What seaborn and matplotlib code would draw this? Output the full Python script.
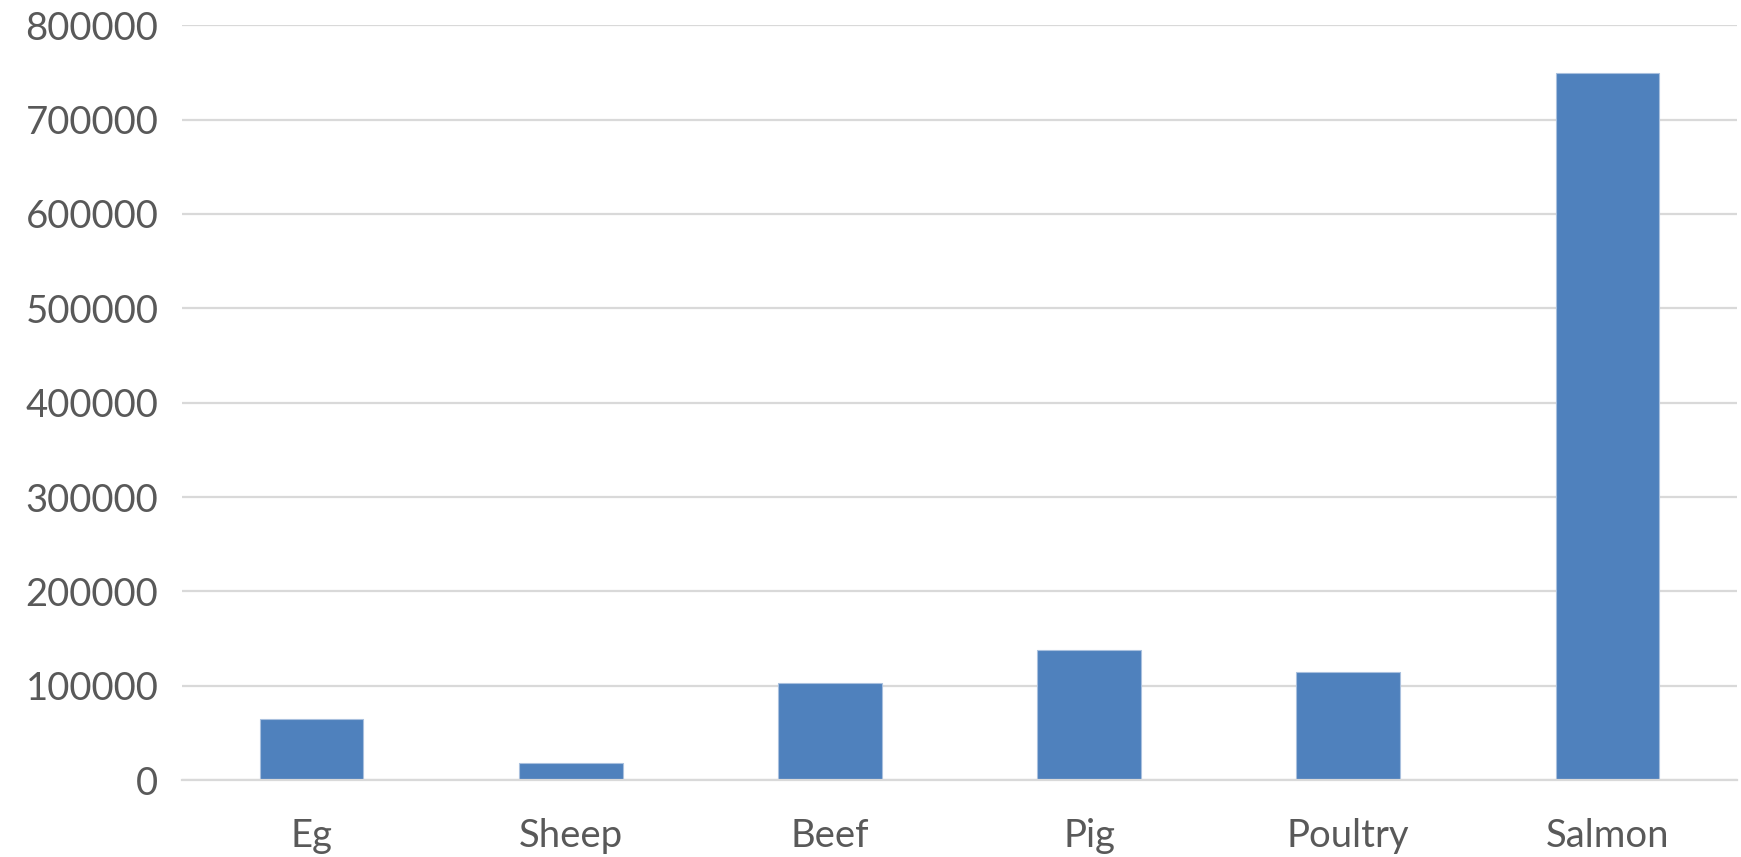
import numpy as np
import pandas as pd
import matplotlib.pyplot as plt
import seaborn as sns

categories = ["Eg", "Sheep", "Beef", "Pig", "Poultry", "Salmon"]
values = [64700, 18400, 102500, 137800, 114800, 749500]
yticks = [0, 100000, 200000, 300000, 400000, 500000, 600000, 700000, 800000]

df = pd.DataFrame({"category": categories, "value": values})

sns.set_style("white")
plt.rcParams["font.family"] = ["Lato", "DejaVu Sans"]

fig = plt.figure(figsize=(17.41, 8.57), dpi=100)
ax = fig.add_axes([0.1045, 0.0898, 0.8932, 0.8807])

sns.barplot(data=df, x="category", y="value", color="#4f81bd",
            saturation=1, width=0.4, edgecolor="#a9c0de", linewidth=0.8, ax=ax)

ax.set_ylim(0, 800000)
ax.set_xlim(-0.5, 5.5)
ax.set_yticks(yticks)
ax.set_yticklabels([str(t) for t in yticks])
ax.yaxis.grid(True, color="#d9d9d9", linewidth=1.6)
ax.set_axisbelow(True)
for s in ["top", "right", "left"]:
    ax.spines[s].set_visible(False)
ax.spines["bottom"].set_color("#d9d9d9")
ax.spines["bottom"].set_linewidth(1.6)
ax.tick_params(axis="y", length=0, pad=17, labelsize=27.5, labelcolor="#595959")
ax.tick_params(axis="x", length=0, pad=27, labelsize=27.5, labelcolor="#595959")
ax.set_xlabel("")
ax.set_ylabel("")

plt.savefig("out.png", dpi=100)
